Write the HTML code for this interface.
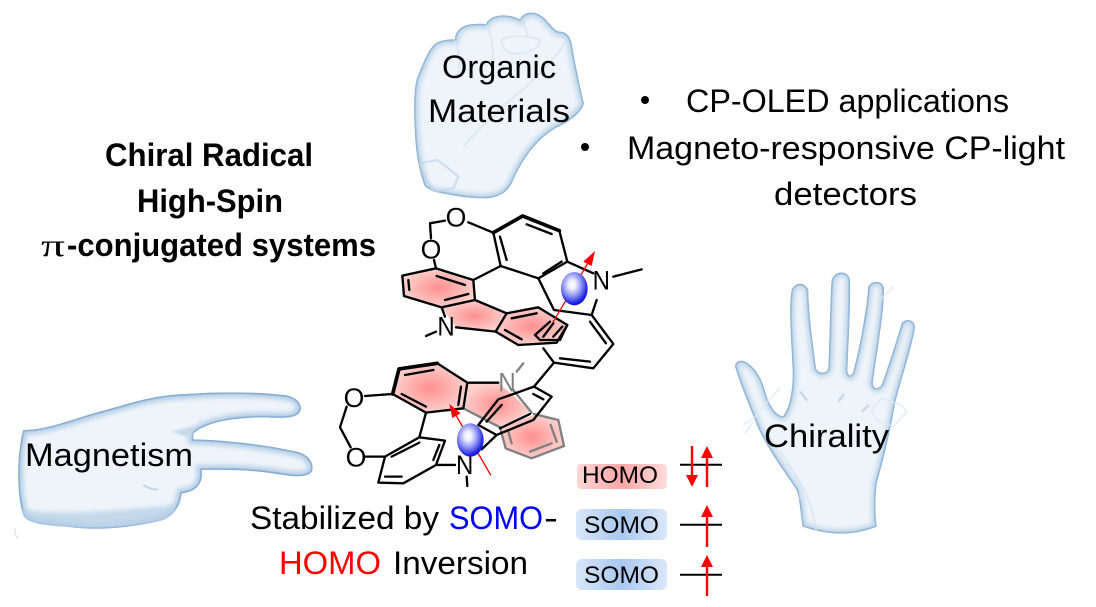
<!DOCTYPE html>
<html>
<head>
<meta charset="utf-8">
<style>
html,body{margin:0;padding:0;background:#fff;width:1096px;height:607px;overflow:hidden}
svg{display:block}
text{font-family:"Liberation Sans",sans-serif;fill:#000}
</style>
</head>
<body>
<svg width="1096" height="607" viewBox="0 0 1096 607" xmlns="http://www.w3.org/2000/svg">
<defs>
<filter id="b6" x="-20%" y="-20%" width="140%" height="140%"><feGaussianBlur stdDeviation="6"/></filter>
<filter id="b3" x="-20%" y="-20%" width="140%" height="140%"><feGaussianBlur stdDeviation="3"/></filter>
<filter id="b1" x="-20%" y="-20%" width="140%" height="140%"><feGaussianBlur stdDeviation="1.5"/></filter>
<radialGradient id="red"><stop offset="0" stop-color="#fe8f8f"/><stop offset="1" stop-color="#fcd0cc"/></radialGradient>
<radialGradient id="ball" cx="0.42" cy="0.38" r="0.62"><stop offset="0" stop-color="#ffffff"/><stop offset="0.22" stop-color="#eceeff"/><stop offset="0.6" stop-color="#8488f4"/><stop offset="0.92" stop-color="#1c20e4"/><stop offset="1" stop-color="#1416d8"/></radialGradient>
<linearGradient id="homo"><stop offset="0" stop-color="#ffd6d6"/><stop offset="0.5" stop-color="#ffa6a6"/><stop offset="1" stop-color="#ffdcdc"/></linearGradient>
<linearGradient id="somo"><stop offset="0" stop-color="#d9e6f8"/><stop offset="0.5" stop-color="#a9c8f0"/><stop offset="1" stop-color="#dbe7f8"/></linearGradient>
<path id="fist" d="M75,560C60,520 48,470 45,400C40,320 42,250 55,225C70,190 85,145 110,128C130,118 150,118 165,118C165,90 190,72 225,72C240,70 250,72 258,72C268,48 310,35 360,58C368,38 400,28 430,52C450,70 462,92 478,95C500,95 510,110 515,130C525,190 540,260 552,310C545,340 500,370 465,385C410,420 370,470 335,550C320,580 290,595 250,595C190,595 130,580 100,575Z"/>
<path id="hand" d="M248,770C240,720 240,690 230,660C190,600 130,520 105,450C85,400 60,340 45,290C45,270 70,265 90,285C115,305 130,340 140,380C155,420 175,440 190,438C205,420 220,370 218,300C215,220 205,120 215,60C225,35 255,35 265,60C265,130 280,230 288,295C295,312 320,312 325,295C330,200 330,90 335,30C345,0 385,0 390,30C392,110 385,220 382,305C385,320 395,320 400,305C420,230 440,120 445,50C455,30 490,30 492,55C492,130 470,250 458,340C460,358 475,358 485,345C505,290 530,210 545,160C555,145 585,145 585,175C570,250 540,340 525,400C510,490 490,570 470,640C465,690 465,730 470,770C420,790 350,805 248,770Z"/>
<path id="point" d="M70,150C130,150 200,125 280,100C380,75 450,45 560,42C660,35 760,35 850,45C890,48 910,75 900,95C890,115 850,115 800,112C720,112 630,120 580,160L580,178C680,180 800,195 890,215C930,225 945,255 935,275C920,295 880,290 820,280C750,270 680,268 605,270C610,310 590,335 545,340C540,380 520,415 470,425C400,440 300,455 200,440C130,435 75,430 68,400C50,340 50,220 70,150Z"/>
<clipPath id="cf"><use href="#fist"/></clipPath>
<clipPath id="ch"><use href="#hand"/></clipPath>
<clipPath id="cp"><use href="#point"/></clipPath>
</defs>

<!-- fist -->
<g transform="translate(400,0) scale(0.3333)">
<use href="#fist" fill="#eef4fa"/>
<g clip-path="url(#cf)">
<use href="#fist" fill="none" stroke="#c6d9ea" stroke-width="30" filter="url(#b6)"/>
<use href="#fist" fill="none" stroke="#8db3d6" stroke-width="9" filter="url(#b1)"/>
<g fill="none" stroke="#d3e2f0" stroke-width="4" filter="url(#b1)">
<path d="M165,118C175,150 185,190 170,230M258,72C275,110 285,150 275,190M362,58C375,80 385,95 380,110M305,120C340,100 400,110 420,120C420,150 370,165 330,160C310,150 305,135 305,120Z"/>
<path d="M190,440C250,370 330,300 390,250C420,220 470,170 500,120"/>
<path d="M60,490L110,480C130,490 150,510 175,530L160,565L100,575C85,550 70,520 60,490Z" stroke="#c2d7ea" stroke-width="5"/>
</g>
</g>
</g>

<!-- open hand -->
<g transform="translate(720,270) scale(0.3333)">
<use href="#hand" fill="#eef4fa"/>
<g clip-path="url(#ch)">
<use href="#hand" fill="none" stroke="#c6d9ea" stroke-width="28" filter="url(#b6)"/>
<use href="#hand" fill="none" stroke="#8db3d6" stroke-width="9" filter="url(#b1)"/>
<g fill="none" stroke="#d6e4f1" stroke-width="4" filter="url(#b1)">
<path d="M240,690C250,640 200,560 140,500M290,790C280,720 260,650 200,580"/>
<path d="M240,365L262,392M355,395L372,372M425,425L448,405" stroke="#bcd2e6" stroke-width="6"/>
</g>
</g>
<g fill="none" stroke="#dde8f2" stroke-width="4" filter="url(#b1)">
<path d="M120,420L180,355M70,465L120,430M75,490L100,455"/>
<path d="M485,385L545,405L560,425L520,470L470,450L455,420Z"/>
<path d="M480,90L520,50"/>
</g>
</g>

<!-- pointing hand -->
<g transform="translate(0,380) scale(0.3333)">
<use href="#point" fill="#eef4fa"/>
<g clip-path="url(#cp)">
<use href="#point" fill="none" stroke="#bdd3e8" stroke-width="32" filter="url(#b6)"/>
<use href="#point" fill="none" stroke="#7fa9d0" stroke-width="9" filter="url(#b1)"/>
<path d="M60,385C130,405 280,400 525,375L530,430L200,450L60,430Z" fill="#b6cfe5" opacity="0.75" filter="url(#b6)"/>
<path d="M515,155L580,140L575,175Z" fill="#c5d9eb" filter="url(#b3)"/>
<path d="M430,315C445,325 460,330 475,328" fill="none" stroke="#a9c5de" stroke-width="4" filter="url(#b1)"/>
</g>
<path d="M46,445C42,455 48,470 54,474" fill="none" stroke="#c8dbea" stroke-width="3"/>
</g>

<!-- molecule, coordinates are 3x zoom of region at (330,190) -->
<g transform="translate(330,190) scale(0.3333)" fill="none" stroke="#000" stroke-linejoin="round" stroke-linecap="round">
<!-- red fills -->
<path d="M318,235L430,270L435,330L335,352L222,318L217,257Z" fill="url(#red)" stroke="none"/>
<path d="M435,330L530,370L497,425L378,412L335,352Z" fill="url(#red)" stroke="none"/>
<path d="M530,370L625,352L712,405L680,458L565,465L497,425Z" fill="url(#red)" stroke="none"/>
<path d="M207,537L322,520L412,578L400,655L288,668L188,612Z" fill="url(#red)" stroke="none"/>
<path d="M412,578L505,578L560,625L600,665L510,710L400,655Z" fill="url(#red)" stroke="none"/>
<path d="M612,675L685,690L702,768L605,805L527,775L510,710Z" fill="url(#red)" stroke="none"/>

<!-- gray part -->
<g stroke="#808080" stroke-width="7">
<path d="M612,672L685,690L702,768L605,805L527,775L510,712"/>
<path d="M400,655L510,712"/>
<path d="M550,600L605,668"/>
<path d="M662,705L680,755M600,785L665,760M545,760L535,725"/>
<path d="M560,545L580,520"/>
</g>
<text x="505" y="604" font-size="80" style="fill:#808080" stroke="none" textLength="52" lengthAdjust="spacingAndGlyphs">N</text>

<!-- upper unit -->
<g stroke-width="7">
<path d="M490,128L578,78L688,122" stroke-width="11"/>
<path d="M688,122L712,215L625,265L512,228L490,128"/>
<path d="M510,140L530,210M590,103L665,132M640,250L695,215"/>
<path d="M415,97L490,128M345,92L300,100L303,145M312,210L318,235"/>
<path d="M318,235L430,270L435,330L335,352L222,318L217,257Z"/>
<path d="M320,258L405,285M345,330L415,312M238,300L235,270"/>
<path d="M430,270L512,228"/>
<path d="M435,330L530,370L497,425L378,412M335,352L345,380M318,425L288,438"/>
<path d="M530,370L625,352L712,405L680,458L565,465L497,425"/>
<path d="M545,385L620,370M525,420L575,448M660,395L615,435L630,450L690,450L712,405M670,400L640,440M697,410L670,440"/>
<path d="M625,265L672,360L785,375"/>
<path d="M712,215L790,250M785,375L800,330M850,260L935,238"/>
<path d="M785,375L850,462L790,535L672,518L640,475"/>
<path d="M780,395L828,460M690,505L780,515"/>
<path d="M672,518L612,590"/>
</g>

<!-- lower unit -->
<g stroke-width="7">
<path d="M188,612L207,537L322,520" stroke-width="11"/>
<path d="M322,520L412,578L400,655L288,668L188,612"/>
<path d="M225,555L310,540M393,590L385,645M215,612L288,650"/>
<path d="M412,578L505,578"/>
<path d="M105,618L188,612M50,650L30,712L62,772M105,800L165,800"/>
<path d="M288,668L268,742L345,752L318,825L220,880L145,878L165,800L268,742"/>
<path d="M185,800L268,758M328,765L310,810M165,860L215,860"/>
<path d="M318,825L375,825M410,860L412,888"/>
<path d="M612,590L665,620L610,690L500,735L445,705L505,628L612,590"/>
<path d="M515,645L470,695M610,612L640,628M510,715L600,672"/>
<path d="M500,735L455,778"/>
</g>

<!-- hetero atoms -->
<g font-size="80" stroke="none" text-anchor="middle">
<text x="378" y="109">O</text>
<text x="303" y="206">O</text>
<text x="72" y="651">O</text>
<text x="78" y="829">O</text>
</g>
<g font-size="80" stroke="none">
<text x="322" y="436" textLength="52" lengthAdjust="spacingAndGlyphs">N</text>
<text x="788" y="298" textLength="52" lengthAdjust="spacingAndGlyphs">N</text>
<text x="378" y="852" textLength="52" lengthAdjust="spacingAndGlyphs">N</text>
</g>

<!-- red arrows and spheres -->
<path d="M670,395L778,212" stroke="#f00" stroke-width="4"/>
<path d="M795,183L760,215L785,228Z" fill="#f00" stroke="none"/>
<path d="M482,855L378,676" stroke="#f00" stroke-width="4"/>
<path d="M358,642L392,670L367,684Z" fill="#f00" stroke="none"/>
<ellipse cx="733" cy="296" rx="40" ry="50" fill="url(#ball)" stroke="none"/>
<ellipse cx="421" cy="750" rx="40" ry="50" fill="url(#ball)" stroke="none"/>
</g>

<!-- hand labels -->
<g font-size="32">
<text x="442" y="78" textLength="114" lengthAdjust="spacingAndGlyphs">Organic</text>
<text x="428" y="122" textLength="142" lengthAdjust="spacingAndGlyphs">Materials</text>
<text x="25" y="466" textLength="168" lengthAdjust="spacingAndGlyphs">Magnetism</text>
<text x="764" y="447" textLength="125" lengthAdjust="spacingAndGlyphs">Chirality</text>
<text x="686" y="112" textLength="323" lengthAdjust="spacingAndGlyphs">CP-OLED applications</text>
<text x="627" y="159" textLength="438" lengthAdjust="spacingAndGlyphs">Magneto-responsive CP-light</text>
<text x="774" y="205" textLength="143" lengthAdjust="spacingAndGlyphs">detectors</text>
<text x="250" y="529" textLength="189" lengthAdjust="spacingAndGlyphs">Stabilized by</text>
<text x="449" y="529" textLength="94" lengthAdjust="spacingAndGlyphs" style="fill:#0000ff">SOMO</text>
<text x="544" y="529" textLength="14" lengthAdjust="spacingAndGlyphs">-</text>
<text x="279" y="574" textLength="102" lengthAdjust="spacingAndGlyphs" style="fill:#ff0000">HOMO</text>
<text x="393" y="574" textLength="135" lengthAdjust="spacingAndGlyphs">Inversion</text>
</g>
<circle cx="645" cy="100" r="4"/>
<circle cx="585" cy="147" r="4"/>

<!-- title -->
<g font-size="32" font-weight="bold">
<text x="105" y="166" textLength="208" lengthAdjust="spacingAndGlyphs">Chiral Radical</text>
<text x="137" y="212" textLength="146" lengthAdjust="spacingAndGlyphs">High-Spin</text>
<text x="41" y="256" textLength="24" lengthAdjust="spacingAndGlyphs" font-weight="normal" style="font-family:'Liberation Serif',serif">π</text>
<text x="67" y="256" textLength="309" lengthAdjust="spacingAndGlyphs">-conjugated systems</text>
</g>

<!-- orbital labels -->
<rect x="577" y="464" width="90" height="25" rx="4" fill="url(#homo)"/>
<rect x="576" y="509" width="91" height="31" rx="6" fill="url(#somo)"/>
<rect x="576" y="559" width="91" height="31" rx="6" fill="url(#somo)"/>
<g font-size="24">
<text x="582" y="483" textLength="76" lengthAdjust="spacingAndGlyphs">HOMO</text>
<text x="584" y="533" textLength="75" lengthAdjust="spacingAndGlyphs">SOMO</text>
<text x="584" y="583" textLength="75" lengthAdjust="spacingAndGlyphs">SOMO</text>
</g>

<!-- orbital levels -->
<g stroke="#000" stroke-width="2">
<path d="M680,464.7H722M680,524.7H722M680,574.7H722"/>
</g>
<g stroke="#f00" stroke-width="2.4" fill="none">
<path d="M692,446V476M707,458V487M707,516V547M707,566V596"/>
</g>
<g fill="#f00">
<path d="M686,475H698L692,487Z"/>
<path d="M701,458H713L707,446Z"/>
<path d="M701,517H713L707,505Z"/>
<path d="M701,567H713L707,555Z"/>
</g>
</svg>
</body>
</html>
